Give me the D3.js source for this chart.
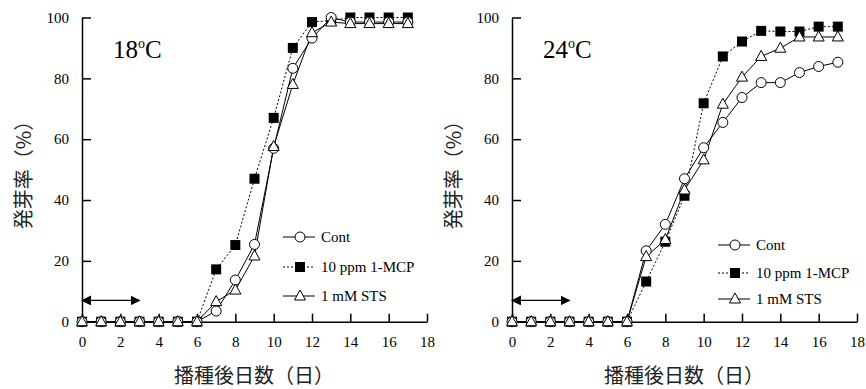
<!DOCTYPE html>
<html>
<head>
<meta charset="utf-8">
<script src="https://cdn.jsdelivr.net/npm/d3@7"></script>
<style>
	body { margin: 0; background: #fff; }
	svg { display: block; }
	.axis path, .axis line { stroke: #000; stroke-width: 1.5; }
	.axis text { font-family: "Liberation Serif", serif; font-size: 15px; fill: #000; }
	.jp { font-family: "Noto Sans CJK JP", sans-serif; font-size: 20px; fill: #222; }
	.leg { font-family: "Liberation Serif", serif; font-size: 15px; fill: #000; }
</style>
</head>
<body>
<div id="chart"></div>
<script>
// days after sowing
var days = d3.range(0, 18);
var xTicks = [0, 2, 4, 6, 8, 10, 12, 14, 16, 18];
var yTicks = [0, 20, 40, 60, 80, 100];
var seriesNames = ["Cont", "10 ppm 1-MCP", "1 mM STS"];
var panelTitles = ["18", "24"];

// 18 C
var cont18 = [0, 0, 0, 0, 0, 0, 0, 3.5, 13.7, 25.4, 57, 83.3, 93.2, 100, 98.5, 98.5, 98.5, 98.5];
var mcp18  = [0, 0, 0, 0, 0, 0, 0, 17.2, 25.2, 47, 67, 90, 98.5, 99, 100, 100, 100, 100];
var sts18  = [0, 0, 0, 0, 0, 0, 0, 6.6, 10.4, 21.6, 57.6, 78, 95, 98.5, 98, 98, 98, 98];

// 24 C
var cont24 = [0, 0, 0, 0, 0, 0, 0, 23.3, 32, 47, 57.2, 65.5, 73.7, 78.6, 78.6, 81.9, 83.9, 85.3];
var mcp24  = [0, 0, 0, 0, 0, 0, 0, 13.2, 26.3, 41.4, 71.8, 87.2, 92.1, 95.6, 95.4, 95.4, 97, 97];
var sts24  = [0, 0, 0, 0, 0, 0, 0, 21.4, 27, 43.3, 53.2, 71.5, 80.4, 87.2, 89.9, 93.6, 93.6, 93.6];

// treatment period arrow (days)
var arrowSpan = [0, 3];
var arrowLevel = 7;

var panels = [
	{ title: panelTitles[0], series: [cont18, mcp18, sts18], left: 82, legX: 283, legY: [237, 267, 296] },
	{ title: panelTitles[1], series: [cont24, mcp24, sts24], left: 512, legX: 718, legY: [245, 273, 299] }
];

var svg = d3.select("#chart").append("svg")
	.attr("width", 866)
	.attr("height", 389);

var defs = svg.append("defs");
defs.append("marker")
	.attr("id", "ah")
	.attr("viewBox", "0 0 10 10")
	.attr("refX", 9).attr("refY", 5)
	.attr("markerWidth", 10).attr("markerHeight", 10)
	.attr("markerUnits", "userSpaceOnUse")
	.attr("orient", "auto-start-reverse")
	.append("path")
	.attr("d", "M0,0 L10,5 L0,10 Z")
	.attr("fill", "#000");

var plotTop = 17.5, plotBottom = 321.7, plotW = 345;

function drawMarker(g, kind, cx, cy) {
	if (kind === 0) {
		g.append("circle").attr("cx", cx).attr("cy", cy).attr("r", 5)
			.attr("fill", "#fff").attr("stroke", "#000").attr("stroke-width", 1);
	} else if (kind === 1) {
		g.append("rect").attr("x", cx - 5).attr("y", cy - 5).attr("width", 10).attr("height", 10)
			.attr("fill", "#000");
	} else {
		g.append("path")
			.attr("d", "M" + cx + "," + (cy - 6) + " L" + (cx + 5.5) + "," + (cy + 4) + " L" + (cx - 5.5) + "," + (cy + 4) + " Z")
			.attr("fill", "#fff").attr("stroke", "#000").attr("stroke-width", 1);
	}
}

panels.forEach(function(p) {
	var x = d3.scaleLinear().domain([0, 18]).range([p.left, p.left + plotW]);
	var y = d3.scaleLinear().domain([0, 100]).range([plotBottom, plotTop]);
	var g = svg.append("g");

	// axes
	g.append("g").attr("class", "axis")
		.attr("transform", "translate(0," + plotBottom + ")")
		.call(d3.axisBottom(x).tickValues(xTicks).tickSizeInner(-8).tickSizeOuter(0).tickPadding(15));
	g.append("g").attr("class", "axis")
		.attr("transform", "translate(" + p.left + ",0)")
		.call(d3.axisLeft(y).tickValues(yTicks).tickSizeInner(-9).tickSizeOuter(0).tickPadding(13));

	// lines
	var line = d3.line().x(function(d, i) { return x(days[i]); }).y(function(d) { return y(d); });
	p.series.forEach(function(s, k) {
		g.append("path").datum(s)
			.attr("d", line)
			.attr("fill", "none")
			.attr("stroke", "#000")
			.attr("stroke-width", 1)
			.attr("stroke-dasharray", k === 1 ? "2,2" : null);
	});
	// markers, squares under open symbols
	[1, 0, 2].forEach(function(k) {
		p.series[k].forEach(function(v, i) {
			drawMarker(g, k, x(days[i]), y(v));
		});
	});

	// arrow
	g.append("line")
		.attr("x1", x(arrowSpan[0])).attr("x2", x(arrowSpan[1]))
		.attr("y1", y(arrowLevel)).attr("y2", y(arrowLevel))
		.attr("stroke", "#000").attr("stroke-width", 1.2)
		.attr("marker-start", "url(#ah)").attr("marker-end", "url(#ah)");

	// title
	var t = g.append("text")
		.attr("x", p.left + 31).attr("y", 58)
		.attr("font-family", "Liberation Serif, serif").attr("font-size", 25);
	t.append("tspan").text(p.title);
	t.append("tspan").attr("font-size", 14).attr("dy", -10).text("o");
	t.append("tspan").attr("dy", 10).text("C");

	// legend
	seriesNames.forEach(function(name, k) {
		var ly = p.legY[k];
		g.append("line")
			.attr("x1", p.legX).attr("x2", p.legX + 32)
			.attr("y1", ly).attr("y2", ly)
			.attr("stroke", "#000").attr("stroke-width", 1)
			.attr("stroke-dasharray", k === 1 ? "2,2" : null);
		drawMarker(g, k, p.legX + 17, ly);
		g.append("text").attr("class", "leg")
			.attr("x", p.legX + 38).attr("y", ly + 5)
			.text(name);
	});

	// axis titles
	g.append("text").attr("class", "jp")
		.attr("transform", "translate(" + (p.left - 51) + "," + 170 + ") rotate(-90)")
		.attr("text-anchor", "middle")
		.text("発芽率（%）");
	g.append("text").attr("class", "jp")
		.attr("x", p.left + 172).attr("y", 383)
		.attr("text-anchor", "middle")
		.text("播種後日数（日）");
});
</script>
</body>
</html>
